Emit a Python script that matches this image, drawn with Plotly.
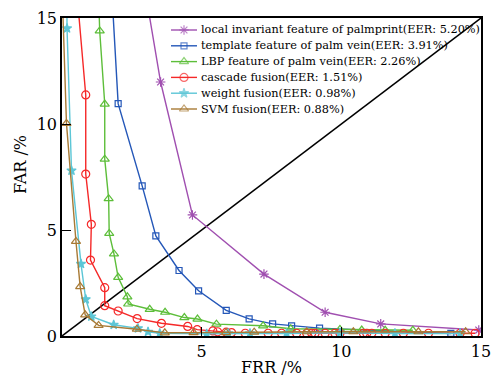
import plotly.graph_objects as go

# ---- data (FRR %, FAR %) ----
names = [
    "local invariant feature of palmprint(EER: 5.20%)",
    "template feature of palm vein(EER: 3.91%)",
    "LBP feature of palm vein(EER: 2.26%)",
    "cascade fusion(EER: 1.51%)",
    "weight fusion(EER: 0.98%)",
    "SVM fusion(EER: 0.88%)",
]

palm_x = [2.95, 3.53, 4.67, 7.23, 9.42, 11.41, 14.92]
palm_y = [16.5, 11.98, 5.71, 2.92, 1.12, 0.57, 0.28]

vein_x = [1.75, 2.01, 2.87, 3.36, 4.19, 4.89, 5.88, 6.70, 7.54, 8.22, 9.22, 13.92]
vein_y = [17.0, 10.96, 7.08, 4.72, 3.09, 2.13, 1.21, 0.81, 0.57, 0.48, 0.37, 0.12]

lbp_x = [1.30, 1.35, 1.53, 1.53, 1.67, 1.69, 1.86, 2.01, 2.34, 2.37, 3.14, 3.69, 4.38,
         4.85, 5.53, 7.20, 8.19, 9.95, 10.73, 11.57, 12.56]
lbp_y = [16.5, 14.39, 10.94, 8.34, 6.48, 4.84, 3.87, 2.77, 1.85, 1.51, 1.26, 1.12, 0.87,
         0.80, 0.56, 0.48, 0.34, 0.31, 0.28, 0.27, 0.27]

casc_x = [0.50, 0.85, 0.85, 1.05, 1.02, 1.53, 1.53, 2.01, 2.69, 3.56, 4.50, 4.84, 5.40,
          5.57, 5.88, 6.07, 6.56, 7.38, 7.86, 8.40, 8.76, 8.94, 9.06, 9.42, 9.77, 9.95,
          10.79, 10.91, 11.09, 11.57, 12.22, 13.12, 14.25, 14.79]
casc_y = [16.7, 11.37, 7.64, 5.27, 3.58, 2.28, 1.43, 1.18, 0.82, 0.60, 0.45, 0.30, 0.24,
          0.20, 0.18, 0.16, 0.13, 0.13, 0.13, 0.13, 0.13, 0.13, 0.13, 0.13, 0.13, 0.13,
          0.13, 0.13, 0.13, 0.13, 0.13, 0.13, 0.13, 0.13]

wgt_x = [0.17, 0.18, 0.34, 0.68, 0.85, 1.05, 1.85, 2.72, 3.08, 3.50, 5.18, 5.95, 6.73,
         8.04, 9.95, 11.92, 14.25]
wgt_y = [16.5, 14.51, 7.80, 3.40, 1.73, 0.92, 0.53, 0.36, 0.20, 0.13, 0.10, 0.12, 0.12,
         0.12, 0.15, 0.12, 0.12]

svm_x = [0.0, 0.16, 0.50, 0.65, 0.83, 1.31, 2.68, 3.68, 4.71, 5.87, 6.88, 8.76, 10.43,
         12.76, 14.45]
svm_y = [16.5, 10.03, 4.46, 2.33, 1.00, 0.50, 0.32, 0.15, 0.16, 0.16, 0.18, 0.20, 0.20,
         0.20, 0.20]

diag_x = [0, 15]
diag_y = [0, 15]

x_ticks = [5, 10, 15]
y_ticks = [0, 5, 10, 15]
x_title = "FRR /%"
y_title = "FAR /%"

colors = ["#A04FB0", "#2457B8", "#5DBE3A", "#F52828", "#5CC6D6", "#A87A35"]
symbols = ["asterisk-open", "square-open", "triangle-up-open", "circle-open", "star",
           "triangle-up-open"]
sizes = [8, 6, 8, 8, 7, 8]
xs_all = [palm_x, vein_x, lbp_x, casc_x, wgt_x, svm_x]
ys_all = [palm_y, vein_y, lbp_y, casc_y, wgt_y, svm_y]

FONT = "DejaVu Serif"

# ---- layout geometry (pixels in the 493x378 window) ----
W, H = 493, 378
PL, PR, PT, PB = 62, 481, 18, 336          # plot box in window pixels
LEG_X0, LEG_X1, LEG_TX = 171, 197, 199     # legend sample line and text start
LEG_Y0, LEG_DY = 30, 15.8                  # first legend row centre, row pitch
XT_POS = (271, 367)                        # x-title centre
YT_POS = (20, 165)                         # y-title centre


def fx(px):
    return (px - PL) / (PR - PL)


def fy(py):
    return (PB - py) / (PB - PT)


fig = go.Figure()
fig.add_trace(go.Scatter(x=diag_x, y=diag_y, mode="lines",
                         line=dict(color="black", width=1.5), showlegend=False,
                         hoverinfo="skip"))
for xs, ys, col, sym, sz, nm in zip(xs_all, ys_all, colors, symbols, sizes, names):
    fig.add_trace(go.Scatter(
        x=xs, y=ys, mode="lines+markers", name=nm, showlegend=False,
        line=dict(color=col, width=1.4),
        marker=dict(symbol=sym, size=sz, color=col, line=dict(color=col, width=1.2)),
    ))

# ---- custom legend (overlay axes spanning the plot box, range 0..1) ----
annotations = []
for i, (col, sym, sz, nm) in enumerate(zip(colors, symbols, sizes, names)):
    py = LEG_Y0 + i * LEG_DY
    yy = fy(py)
    fig.add_trace(go.Scatter(
        x=[fx(LEG_X0), fx((LEG_X0 + LEG_X1) / 2), fx(LEG_X1)], y=[yy, yy, yy],
        xaxis="x2", yaxis="y2", mode="lines+markers", showlegend=False,
        hoverinfo="skip", line=dict(color=col, width=1.4),
        marker=dict(symbol=sym, size=[0, sz, 0], color=col,
                    line=dict(color=col, width=1.2)),
    ))
    annotations.append(dict(
        x=fx(LEG_TX), y=yy, xref="paper", yref="paper", text=nm, showarrow=False,
        xanchor="left", yanchor="middle",
        font=dict(family=FONT, size=11.3, color="black"),
    ))

annotations.append(dict(x=fx(XT_POS[0]), y=fy(XT_POS[1]), xref="paper", yref="paper",
                        text=x_title, showarrow=False, xanchor="center", yanchor="middle",
                        font=dict(family=FONT, size=16, color="black")))
annotations.append(dict(x=fx(YT_POS[0]), y=fy(YT_POS[1]), xref="paper", yref="paper",
                        text=y_title, showarrow=False, xanchor="center", yanchor="middle",
                        textangle=-90, font=dict(family=FONT, size=16, color="black")))

axis_common = dict(range=[0, 15], ticks="inside", ticklen=9, tickwidth=1.2,
                   tickcolor="black", showline=True, linecolor="black", linewidth=1.5,
                   mirror=True, showgrid=False, zeroline=False, automargin=False,
                   tickfont=dict(family=FONT, size=16, color="black"))

fig.update_layout(
    width=W, height=H,
    margin=dict(l=PL, r=W - PR, t=PT, b=H - PB, autoexpand=False),
    paper_bgcolor="white", plot_bgcolor="white",
    font=dict(family=FONT, color="black"),
    showlegend=False,
    annotations=annotations,
    xaxis=dict(tickvals=x_ticks, **axis_common),
    yaxis=dict(tickvals=y_ticks, **axis_common),
    xaxis2=dict(overlaying="x", range=[0, 1], visible=False, fixedrange=True),
    yaxis2=dict(overlaying="y", range=[0, 1], visible=False, fixedrange=True),
)

fig.write_html(
    "out.html",
    config={"displayModeBar": False},
    post_script="document.body.style.margin='0';document.body.style.overflow='hidden';",
)
